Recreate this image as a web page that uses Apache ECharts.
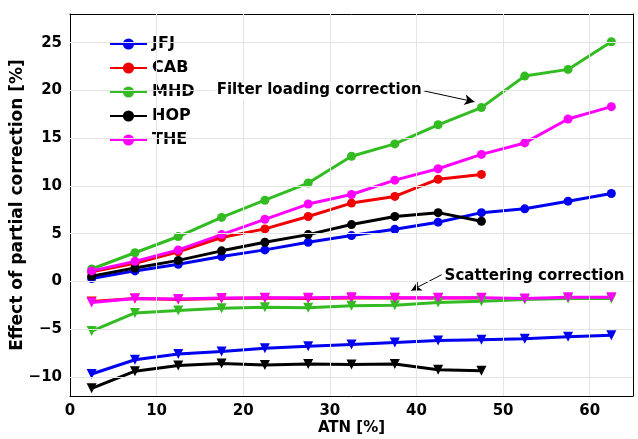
<!DOCTYPE html>
<html><head><meta charset="utf-8">
<script src="https://cdn.jsdelivr.net/npm/echarts@6/dist/echarts.min.js"></script>
<style>html,body{margin:0;padding:0;background:#fff}#c{width:638px;height:439px}</style>
</head><body><div id="c"></div>
<script>
// ATN bin centres [%]
const atn = [2.5, 7.5, 12.5, 17.5, 22.5, 27.5, 32.5, 37.5, 42.5, 47.5, 52.5, 57.5, 62.5];
const stations = ['JFJ', 'CAB', 'MHD', 'HOP', 'THE'];
// Filter loading correction [%]
const jfjLoad = [0.3, 1.1, 1.8, 2.6, 3.3, 4.1, 4.8, 5.45, 6.2, 7.2, 7.6, 8.4, 9.2];
const cabLoad = [1.0, 1.9, 3.1, 4.6, 5.5, 6.8, 8.2, 8.9, 10.7, 11.2];
const mhdLoad = [1.3, 3.0, 4.7, 6.7, 8.5, 10.3, 13.1, 14.4, 16.4, 18.2, 21.5, 22.2, 25.1];
const hopLoad = [0.55, 1.4, 2.2, 3.2, 4.1, 4.9, 5.95, 6.8, 7.2, 6.3];
const theLoad = [1.1, 2.1, 3.3, 4.9, 6.5, 8.1, 9.1, 10.6, 11.8, 13.3, 14.5, 17.0, 18.3];
// Scattering correction [%]
const jfjScat = [-9.7, -8.2, -7.6, -7.35, -7.0, -6.8, -6.6, -6.4, -6.2, -6.1, -6.0, -5.8, -5.65];
const cabScat = [-2.1, -1.8, -1.9, -1.8, -1.75, -1.8, -1.75, -1.75, -1.75, -1.75];
const mhdScat = [-5.2, -3.3, -3.05, -2.8, -2.7, -2.75, -2.55, -2.5, -2.2, -2.07, -1.9, -1.8, -1.8];
const hopScat = [-11.2, -9.4, -8.8, -8.6, -8.75, -8.65, -8.7, -8.65, -9.25, -9.35];
const theScat = [-2.2, -1.8, -1.85, -1.75, -1.7, -1.7, -1.65, -1.7, -1.7, -1.7, -1.8, -1.65, -1.65];
// Axis ticks
const xTicks = [0, 10, 20, 30, 40, 50, 60];
const yTicks = [-10, -5, 0, 5, 10, 15, 20, 25];
// Annotations
const annLoadText = 'Filter loading correction';
const annScatText = 'Scattering correction';

const colors = { JFJ: '#0000f0', CAB: '#f00000', MHD: '#33bb22', HOP: '#000000', THE: '#ff00ff' };
const loadData = { JFJ: jfjLoad, CAB: cabLoad, MHD: mhdLoad, HOP: hopLoad, THE: theLoad };
const scatData = { JFJ: jfjScat, CAB: cabScat, MHD: mhdScat, HOP: hopScat, THE: theScat };

const pair = arr => arr.map((v, i) => [atn[i], v]);
const font = '"DejaVu Sans", Verdana, sans-serif';
const fmt = v => (v < 0 ? '\u2212' + Math.abs(v) : String(v));

const series = [];
stations.forEach(s => {
  series.push({
    name: s, type: 'line', data: pair(loadData[s]),
    symbol: 'circle', symbolSize: 9,
    lineStyle: { width: 3, color: colors[s] },
    itemStyle: { color: colors[s] }, z: 3
  });
});
stations.forEach(s => {
  series.push({
    name: s, type: 'line', data: pair(scatData[s]),
    symbol: 'triangle', symbolRotate: 180, symbolSize: 10,
    lineStyle: { width: 3, color: colors[s] },
    itemStyle: { color: colors[s] }, z: 3
  });
});
// annotation arrows (data coordinates)
series.push({
  type: 'line', data: [], silent: true,
  markLine: {
    silent: true, symbol: ['none', 'arrow'], symbolSize: [8, 10],
    label: { show: false },
    lineStyle: { color: '#000', width: 1, type: 'solid' },
    data: [
      [{ coord: [40.6, 20.0] }, { coord: [46.7, 18.8] }],
      [{ coord: [42.9, 0.7] }, { coord: [39.4, -0.95] }]
    ]
  }
});
// grid lines from tick arrays
series.push({
  type: 'line', data: [], silent: true, z: 1,
  markLine: {
    silent: true, symbol: ['none', 'none'], label: { show: false },
    lineStyle: { color: '#e4e4e4', width: 1, type: 'solid' },
    data: xTicks.filter(v => v > 0).map(v => ({ xAxis: v }))
      .concat(yTicks.map(v => ({ yAxis: v })))
  }
});

const line = { show: true, onZero: false, lineStyle: { color: '#000', width: 1 } };
const tick = vals => ({ show: true, inside: true, length: 5, customValues: vals, lineStyle: { color: '#000' } });
const lblStyle = { fontFamily: font, fontWeight: 'bold', fontSize: 15, color: '#000' };

const chart = echarts.init(document.getElementById('c'));
chart.setOption({
  animation: false,
  grid: { left: 70, right: 5, top: 14, bottom: 43, containLabel: false, outerBoundsMode: 'none' },
  legend: {
    data: stations, orient: 'vertical', left: 104, top: 31,
    itemWidth: 37, itemHeight: 14, itemGap: 8,
    textStyle: { fontFamily: font, fontWeight: 'bold', fontSize: 16, color: '#000' }
  },
  xAxis: [{
    type: 'value', min: 0, max: 65, position: 'bottom',
    name: 'ATN [%]', nameLocation: 'middle', nameGap: 25, nameMoveOverlap: false, nameTextStyle: lblStyle,
    axisLine: line, axisTick: tick(xTicks),
    axisLabel: Object.assign({ customValues: xTicks, margin: 8, formatter: fmt }, lblStyle),
    splitLine: { show: false }
  }, {
    type: 'value', min: 0, max: 65, position: 'top',
    axisLine: line, axisTick: tick(xTicks), axisLabel: { show: false }, splitLine: { show: false }
  }],
  yAxis: [{
    type: 'value', min: -12, max: 28, position: 'left',
    name: 'Effect of partial correction [%]', nameLocation: 'middle', nameGap: 44, nameMoveOverlap: false,
    nameTextStyle: Object.assign({}, lblStyle, { fontSize: 17 }),
    axisLine: line, axisTick: tick(yTicks),
    axisLabel: Object.assign({ customValues: yTicks, margin: 8, formatter: fmt }, lblStyle),
    splitLine: { show: false }
  }, {
    type: 'value', min: -12, max: 28, position: 'right',
    axisLine: line, axisTick: tick(yTicks), axisLabel: { show: false }, splitLine: { show: false }
  }],
  series: series
});

const p1 = chart.convertToPixel({ xAxisIndex: 0, yAxisIndex: 0 }, [40.6, 20.0]);
const p2 = chart.convertToPixel({ xAxisIndex: 0, yAxisIndex: 0 }, [42.9, 0.7]);
chart.setOption({
  graphic: [
    { type: 'text', x: p1[0] + 2, y: p1[1], z: 10, style: { text: annLoadText, fill: '#000', font: 'bold 15px ' + font, align: 'right', verticalAlign: 'middle', backgroundColor: '#fff', padding: [1, 2] } },
    { type: 'text', x: p2[0] + 3, y: p2[1] + 1, z: 10, style: { text: annScatText, fill: '#000', font: 'bold 15px ' + font, align: 'left', verticalAlign: 'middle' } }
  ]
});
</script></body></html>
